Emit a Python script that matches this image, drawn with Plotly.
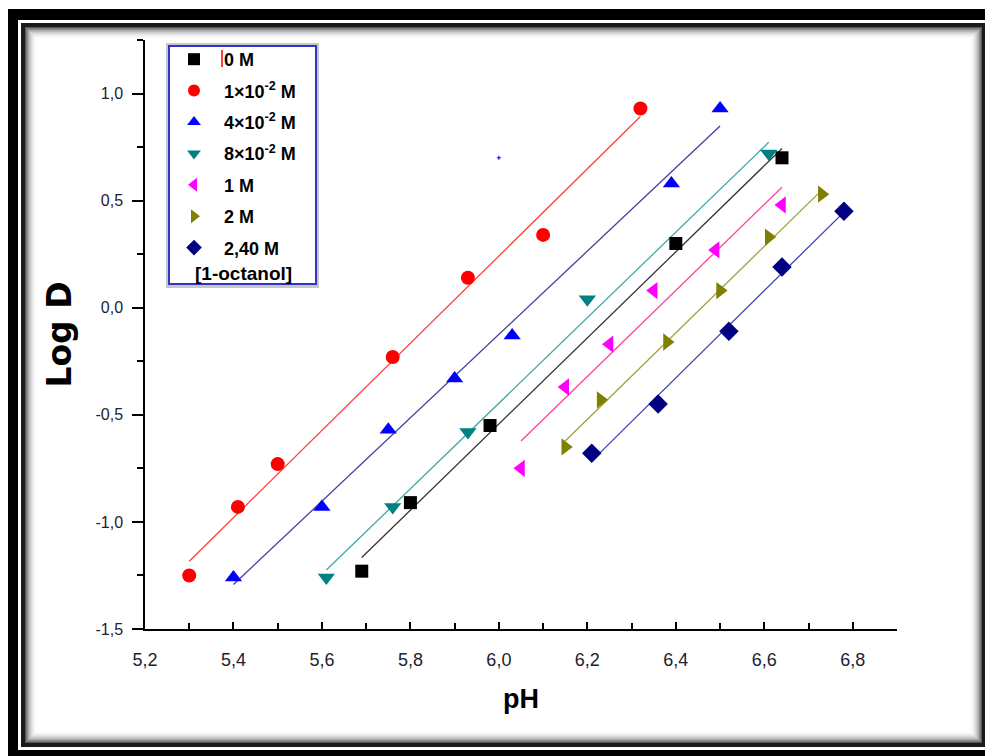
import numpy as np
import plotly.graph_objects as go

# data (pH, log D) for each HCl / 1-octanol concentration
ph_0 = [5.69, 5.80, 5.98, 6.40, 6.64]
logd_0 = [-1.23, -0.91, -0.55, 0.30, 0.70]

ph_1e2 = [5.30, 5.41, 5.50, 5.76, 5.93, 6.10, 6.32]
logd_1e2 = [-1.25, -0.93, -0.73, -0.23, 0.14, 0.34, 0.93]

ph_4e2 = [5.40, 5.60, 5.75, 5.90, 6.03, 6.39, 6.50]
logd_4e2 = [-1.26, -0.93, -0.57, -0.33, -0.13, 0.58, 0.93]

ph_8e2 = [5.61, 5.76, 5.93, 6.20, 6.61]
logd_8e2 = [-1.26, -0.93, -0.58, 0.04, 0.72]

ph_1 = [6.05, 6.15, 6.25, 6.35, 6.49, 6.64]
logd_1 = [-0.75, -0.37, -0.17, 0.08, 0.27, 0.48]

ph_2 = [6.15, 6.23, 6.38, 6.50, 6.61, 6.73]
logd_2 = [-0.65, -0.43, -0.16, 0.08, 0.33, 0.53]

ph_240 = [6.21, 6.36, 6.52, 6.64, 6.78]
logd_240 = [-0.68, -0.45, -0.11, 0.19, 0.45]

# stray point visible in the original
ph_stray = [6.00]
logd_stray = [0.70]

x_ticks = [5.2, 5.4, 5.6, 5.8, 6.0, 6.2, 6.4, 6.6, 6.8]
x_ticktext = ["5,2", "5,4", "5,6", "5,8", "6,0", "6,2", "6,4", "6,6", "6,8"]
x_minor = [5.3, 5.5, 5.7, 5.9, 6.1, 6.3, 6.5, 6.7, 6.9]
y_ticks = [-1.5, -1.0, -0.5, 0.0, 0.5, 1.0]
y_ticktext = ["-1,5", "-1,0", "-0,5", "0,0", "0,5", "1,0"]
y_minor = [-1.25, -0.75, -0.25, 0.25, 0.75, 1.25]

series = [
    ("0 M", ph_0, logd_0, "square", "#000000", "#333333", 13),
    ("1×10<sup>-2</sup> M", ph_1e2, logd_1e2, "circle", "#ff0000", "#ff4040", 14),
    ("4×10<sup>-2</sup> M", ph_4e2, logd_4e2, "triangle-up", "#0000ff", "#4040a0", 15),
    ("8×10<sup>-2</sup> M", ph_8e2, logd_8e2, "triangle-down", "#008080", "#40a8a8", 15),
    ("1 M", ph_1, logd_1, "triangle-left", "#ff00ff", "#ff40a0", 15),
    ("2 M", ph_2, logd_2, "triangle-right", "#808000", "#a0a040", 15),
    ("2,40 M", ph_240, logd_240, "diamond", "#000080", "#4040b0", 15),
]

# page body adds an 8px margin, so work in screen pixels and shift back
OFF = 8
W, H = 993 - OFF, 756 - OFF
L, R, T, B = 145, 897, 40, 629


def px(xp):
    return (xp - L) / (R - L)


def py(yp):
    return (B - yp) / (B - T)


fig = go.Figure()

# fitted lines first so markers sit on top
for name, xs, ys, sym, col, lcol, sz in series:
    a, b = np.polyfit(xs, ys, 1)
    xl = np.array([min(xs), max(xs)])
    fig.add_trace(go.Scatter(x=xl, y=a * xl + b, mode="lines",
                             line=dict(color=lcol, width=1.3),
                             showlegend=False, hoverinfo="skip"))

for i, (name, xs, ys, sym, col, lcol, sz) in enumerate(series):
    fig.add_trace(go.Scatter(x=xs, y=ys, mode="markers",
                             name="&nbsp;&nbsp;<b>" + name + "</b>",
                             legendgroup=str(i),
                             marker=dict(symbol=sym, size=sz, color=col)))

fig.add_trace(go.Scatter(x=ph_stray, y=logd_stray, mode="markers", showlegend=False,
                         marker=dict(symbol="cross-thin", size=3,
                                     line=dict(color="#0000ff", width=1))))

# picture frame
shapes = []


def rect(x0, y0, x1, y1, fill, line_color=None, lw=0):
    shapes.append(dict(type="rect", xref="paper", yref="paper", layer="below",
                       x0=px(x0), x1=px(x1), y0=py(y1), y1=py(y0),
                       fillcolor=fill,
                       line=dict(width=lw, color=line_color or fill)))


rect(8, 9, 1005, 770, "#000000")
rect(18, 20, 989, 750, "#ffffff")
rect(21, 23, 986, 747, "#1a1a1a")
grays = [90, 120, 145, 168, 188, 204, 218, 229, 238, 245, 250, 253, 255]
for k, g in enumerate(grays):
    rect(25 + k, 27 + k, 982 - k, 743 - k, "rgb(%d,%d,%d)" % (g, g, g))

# legend box
rect(166, 43, 319, 288, "#c8c8c8")
rect(169, 46, 316, 284, "#ffffff", "#3333cc", 2)
shapes.append(dict(type="line", xref="paper", yref="paper",
                   x0=px(222), x1=px(222), y0=py(67), y1=py(50),
                   line=dict(color="#ff0000", width=1.5)))

fig.update_layout(
    width=W, height=H,
    margin=dict(l=L - OFF, r=W - (R - OFF), t=T - OFF, b=H - (B - OFF)),
    paper_bgcolor="white", plot_bgcolor="rgba(0,0,0,0)",
    shapes=shapes,
    showlegend=True,
    legend=dict(x=px(174), y=py(41), xanchor="left", yanchor="top",
                bgcolor="rgba(0,0,0,0)", borderwidth=0, tracegroupgap=5,
                font=dict(family="Liberation Sans, Arial", size=18, color="#000000"),
                itemsizing="constant"),
    annotations=[dict(text="<b>[1-octanol]</b>", xref="paper", yref="paper",
                      x=px(193), y=py(273), xanchor="left", yanchor="middle",
                      showarrow=False,
                      font=dict(family="Liberation Sans, Arial", size=19, color="#000000"))],
    font=dict(family="Liberation Sans, Arial"),
)

fig.update_xaxes(range=[5.2, 6.9], showgrid=False, zeroline=False,
                 showline=True, linecolor="#000000", linewidth=1.5,
                 tickmode="array", tickvals=x_ticks, ticktext=x_ticktext,
                 ticks="inside", ticklen=7, tickwidth=1.5, tickcolor="#000000",
                 minor=dict(tickmode="array", tickvals=x_minor, ticks="inside",
                            ticklen=6, tickwidth=1.5, tickcolor="#000000"),
                 ticklabelstandoff=14,
                 tickfont=dict(family="Liberation Sans Narrow, Arial Narrow, Liberation Sans",
                               size=18, color="#222233"),
                 title=dict(text="<b>pH</b>", standoff=20,
                            font=dict(family="Liberation Sans, Arial", size=27, color="#000000")))

fig.update_yaxes(range=[-1.5, 1.25], showgrid=False, zeroline=False,
                 showline=True, linecolor="#000000", linewidth=1.5,
                 tickmode="array", tickvals=y_ticks, ticktext=y_ticktext,
                 ticks="outside", ticklen=11, tickwidth=1.5, tickcolor="#000000",
                 minor=dict(tickmode="array", tickvals=y_minor, ticks="outside",
                            ticklen=6, tickwidth=1.5, tickcolor="#000000"),
                 ticklabelstandoff=6,
                 tickfont=dict(family="Liberation Sans, Arial", size=16, color="#222233"),
                 title=dict(text="<b>Log D</b>", standoff=14,
                            font=dict(family="DejaVu Sans", size=33, color="#000000")))

fig.write_html("out.html")
